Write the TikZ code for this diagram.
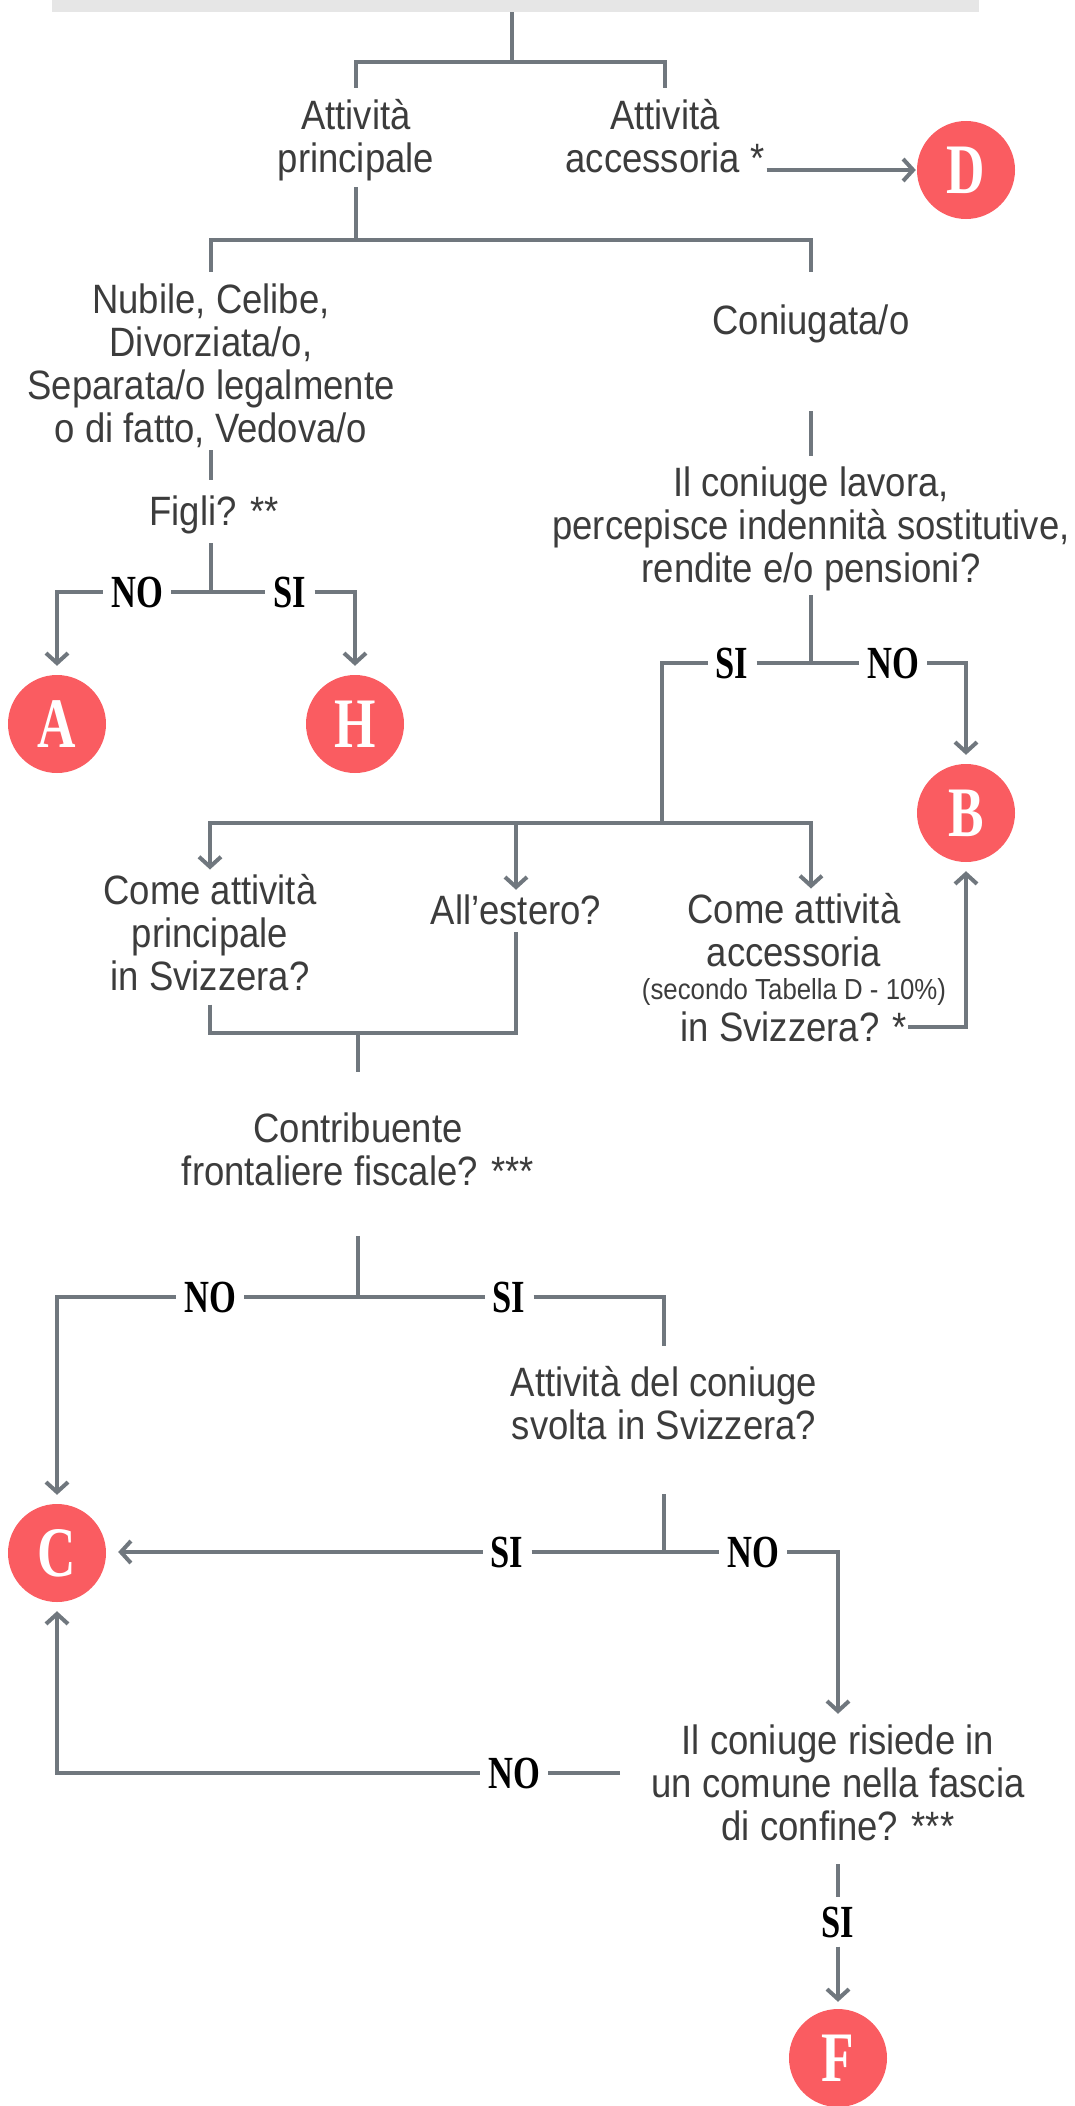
\documentclass[tikz,border=0pt]{standalone}
\usepackage{fontspec}
\usetikzlibrary{arrows.meta,positioning}
\newfontfamily\boxfont{Liberation Sans}[FakeStretch=0.89]
\newfontfamily\labfont{Liberation Serif}[FakeStretch=0.75]
\definecolor{linegray}{RGB}{112,119,126}
\definecolor{txtgray}{RGB}{60,60,60}
\definecolor{circred}{RGB}{250,92,97}
\definecolor{barfill}{RGB}{230,230,230}
\tikzstyle{txt} = [align=center, inner sep=2pt, text=txtgray, font=\boxfont\fontsize{41}{43}\selectfont]
\tikzstyle{lab} = [inner xsep=8pt, inner ysep=2pt, font=\labfont\bfseries\fontsize{46}{46}\selectfont]
\tikzstyle{endpt} = [circle, fill=circred, minimum size=98pt, inner sep=0pt, text=white, font=\labfont\bfseries\fontsize{71}{71}\selectfont]
\tikzstyle{ln} = [draw=linegray, line width=4pt]
\tikzstyle{arr} = [ln, -{Straight Barb[length=10pt,width=22pt]}, shorten >=9pt]

\begin{document}
\begin{tikzpicture}[x=1pt,y=-1pt]
\useasboundingbox (0,0) rectangle (1075,2106);
\node[fill=barfill, minimum width=927pt, minimum height=12pt, inner sep=0pt] (bar) at (515.5,6) {};

\node[txt] (princ) at (356,140) {Attività\\principale};
\node[txt] (acc) at (665,136) {Attività\\accessoria *};
\node[endpt] (D) at (966,170) {D};
\node[txt] (single) at (211,366) {Nubile, Celibe,\\Divorziata/o,\\Separata/o legalmente\\o di fatto, Vedova/o};
\node[txt] (married) at (811,324) {Coniugata/o};
\node[txt] (figli) at (214,515) {Figli? **};
\node[lab] (no1) at (137,592) {NO};
\node[lab] (si1) at (290,592) {SI};
\node[endpt] (A) at (57,724) {A};
\node[endpt] (H) at (355,724) {H};
\node[txt] (q1) at (811,529) {Il coniuge lavora,\\percepisce indennità sostitutive,\\rendite e/o pensioni?};
\node[lab] (si2) at (732,663) {SI};
\node[lab] (no2) at (893,663) {NO};
\node[endpt] (B) at (966,813) {B};
\node[txt] (c1) at (210,933) {Come attività\\principale\\in Svizzera?};
\node[txt] (c2) at (516,910) {All’estero?};
\node[txt] (c3) at (794,968) {Come attività\\accessoria\\[-10pt]{\fontsize{29}{33}\selectfont(secondo Tabella D - 10\%)}\\[-1pt]in Svizzera? *};
\node[txt] (contrib) at (358,1149) {Contribuente\\frontaliere fiscale? ***};
\node[lab] (no3) at (210,1297) {NO};
\node[lab] (si3) at (509,1297) {SI};
\node[endpt] (C) at (57,1553) {C};
\node[txt] (q2) at (664,1403) {Attività del coniuge\\svolta in Svizzera?};
\node[lab] (si4) at (507,1552) {SI};
\node[lab] (no4) at (753,1552) {NO};
\node[txt] (q3) at (838,1783) {Il coniuge risiede in\\un comune nella fascia\\di confine? ***};
\node[lab] (no5) at (514,1773) {NO};
\node[lab, inner ysep=9pt] (si5) at (838,1922) {SI};
\node[endpt] (F) at (838,2058) {F};

\coordinate (j1) at (512,62);
\coordinate (j2) at (356,240);
\coordinate (j4) at (662,823);
\coordinate (j5) at (358,1033);
\coordinate (c3e) at (908,1027);
\coordinate (q3w) at ([xshift=-29pt,yshift=10pt]q3.west);

\draw[ln] (j1 |- bar.south) -- (j1);
\draw[ln, shorten <=9pt, shorten >=9pt] (princ.north) |- (j1) -| (acc.north);
\draw[arr, shorten >=1pt] (acc.east |- D) -- (D);

\draw[ln, shorten <=4pt] (princ.south) -- (j2);
\draw[ln, shorten <=10pt, shorten >=31pt] (single.north) |- (j2) -| (married.north);
\draw[ln, shorten >=14pt] (single.south) -- (single.south |- figli.north);
\draw[ln, shorten <=7pt] (single.south |- figli.south) -- (single.south |- no1);
\draw[ln] (no1.east) -- (si1.west);
\draw[arr] (no1.west) -| (A);
\draw[arr] (si1.east) -| (H);

\draw[ln, shorten <=66pt, shorten >=9pt] (married.south) -- (q1.north);
\draw[ln, shorten <=2pt] (q1.south) -- (q1.south |- si2);
\draw[ln] (si2.east) -- (no2.west);
\draw[arr] (no2.east) -| (B);
\draw[ln] (si2.west) -| (j4);
\draw[arr, shorten >=3pt] (j4) -| (c1);
\draw[arr, shorten >=3pt] (j4) -| (c2);
\draw[arr, shorten >=3pt] (j4) -| ([xshift=17pt]c3.north);
\draw[arr] (c3e) -| (B);

\draw[ln, shorten <=11pt] (c1.south) |- (j5);
\draw[ln, shorten <=5pt] (c2.south) |- (j5);
\draw[ln, shorten >=38pt] (j5) -- (contrib.north);
\draw[ln, shorten <=48pt] (contrib.south) -- (contrib.south |- no3);
\draw[ln] (no3.east) -- (si3.west);
\draw[arr] (no3.west) -| (C);
\draw[ln, shorten >=18pt] (si3.east) -| (q2.north);

\draw[ln, shorten <=52pt] (q2.south) -- (q2.south |- si4);
\draw[ln] (si4.east) -- (no4.west);
\draw[arr, shorten >=12pt] (si4.west) -- (si4.west -| C.east);
\draw[arr] (no4.east) -| (q3.north);
\draw[ln] (q3w) -- (no5.east);
\draw[arr] (no5.west) -| (C);
\draw[ln, shorten <=21pt] (q3.south) -- (si5.north);
\draw[arr, shorten >=7pt] (si5.south) -- (F);
\end{tikzpicture}
\end{document}
